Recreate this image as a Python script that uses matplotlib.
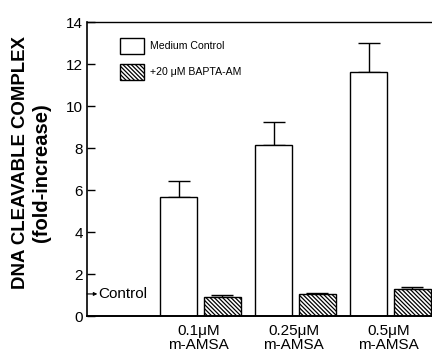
import matplotlib
matplotlib.use('Agg')
import matplotlib.pyplot as plt
import numpy as np

plt.rcParams['font.family'] = ['Liberation Sans', 'DejaVu Sans']
plt.rcParams['hatch.linewidth'] = 0.9

# values (fold-increase)
doses = ['0.1μM\nm-AMSA', '0.25μM\nm-AMSA', '0.5μM\nm-AMSA']
medium = [5.65, 8.15, 11.6]
medium_err = [0.8, 1.1, 1.4]
bapta = [0.92, 1.03, 1.27]
bapta_err = [0.1, 0.08, 0.13]
series_labels = ['Medium Control', '+20 μM BAPTA-AM']

fig = plt.figure(figsize=(4.32, 3.58), dpi=100)
ax = fig.add_axes([87 / 432, 1 - 316 / 358, 1 - 87 / 432, 294 / 358])

x = np.arange(len(doses))
w = 0.385
off = 0.229

ax.bar(x - off, medium, w, color='white', edgecolor='black', linewidth=1.0,
       label=series_labels[0], zorder=2)
ax.bar(x + off, bapta, w, color='white', edgecolor='black', linewidth=1.0,
       hatch='\\' * 8, label=series_labels[1], zorder=2)

ax.errorbar(x - off, medium, yerr=[np.zeros(len(medium)), medium_err], fmt='none',
            ecolor='black', elinewidth=1.0, capsize=8, capthick=1.0, zorder=1)
ax.errorbar(x + off, bapta, yerr=[np.zeros(len(bapta)), bapta_err], fmt='none',
            ecolor='black', elinewidth=1.0, capsize=8, capthick=1.0, zorder=1)

ax.set_xlim(-1.195, 2.437)
ax.set_ylim(0, 14)
ax.set_yticks(range(0, 15, 2))
ax.set_xticks(x - 0.02)
ax.set_xticklabels(doses, fontsize=11, linespacing=1.0)
ax.tick_params(axis='x', length=0, pad=6)
ax.tick_params(axis='y', direction='in', length=6, width=1.0, labelsize=11, pad=3)

ax.spines['right'].set_visible(False)
ax.spines['top'].set_linewidth(1.0)
ax.spines['left'].set_linewidth(1.2)
ax.spines['bottom'].set_linewidth(1.4)

# control level marker
ax.annotate('', xy=(0.03, 1.05), xytext=(0.0, 1.05),
            xycoords=('axes fraction', 'data'),
            arrowprops=dict(arrowstyle='-|>', color='black', lw=0.8,
                            mutation_scale=5, shrinkA=0, shrinkB=0))
ax.text(0.034, 1.05, 'Control', transform=ax.get_yaxis_transform(),
        fontsize=11, va='center', ha='left')

ax.legend(loc='upper left', bbox_to_anchor=(0.095, 0.947), frameon=False,
          fontsize=7.6, handlelength=2.3, handleheight=2.0, labelspacing=0.95,
          handletextpad=0.6, borderpad=0, borderaxespad=0)

fig.text(21 / 432, 1 - 163 / 358, 'DNA CLEAVABLE COMPLEX', rotation=90,
         fontsize=13.4, fontweight='bold', ha='center', va='center')
fig.text(41 / 432, 1 - 173 / 358, '(fold-increase)', rotation=90,
         fontsize=14.5, fontweight='bold', ha='center', va='center')

fig.savefig('out.png', dpi=100)
